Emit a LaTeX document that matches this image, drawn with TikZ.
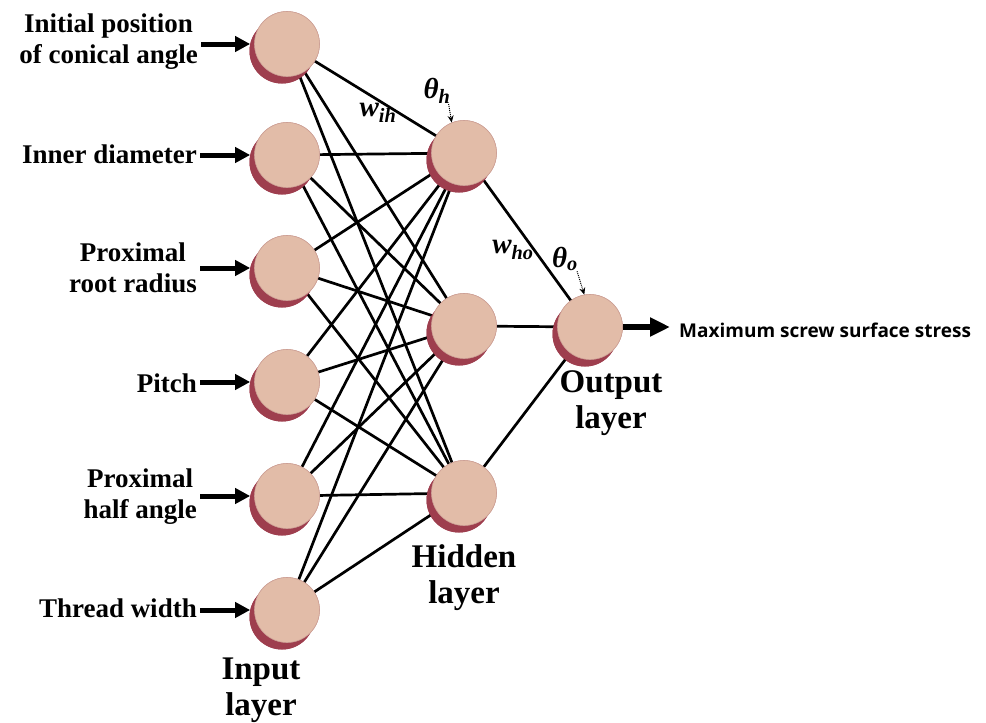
\documentclass[tikz,border=0pt]{standalone}
\usepackage{fontspec}
\setmainfont{Liberation Serif}
\newfontfamily\osans{Open Sans}
\usetikzlibrary{shadows,arrows.meta}
\definecolor{nodefill}{RGB}{226,188,168}
\definecolor{nodeline}{RGB}{205,160,150}
\definecolor{shadowred}{RGB}{158,62,78}
\tikzset{
  neuron/.style={circle, minimum size=65pt, inner sep=0pt, fill=nodefill, draw=nodeline, line width=0.6pt,
    general shadow={fill=shadowred, shadow xshift=-5pt, shadow yshift=-7pt}},
  inlabel/.style={font=\bfseries\fontsize{27}{31}\selectfont, align=center, anchor=east, inner sep=0pt},
  laylabel/.style={font=\bfseries\fontsize{33}{36}\selectfont, align=center, inner sep=0pt},
  inarrow/.style={line width=5pt, -{Triangle[length=15pt,width=15pt]}},
  outarrow/.style={line width=6pt, -{Triangle[length=20pt,width=18pt]}},
  conn/.style={line width=2.7pt},
  dotarrow/.style={densely dotted, line width=1pt, -{Stealth[length=7pt,width=6pt]}},
  wlabel/.style={font=\bfseries\itshape\fontsize{29}{30}\selectfont, inner sep=0pt},
}
\begin{document}
\begin{tikzpicture}[x=1pt,y=-1pt]
\useasboundingbox (0,0) rectangle (986,723);
% input nodes
\node[neuron] (i1) at (287,44) {};
\node[neuron] (i2) at (287,155) {};
\node[neuron] (i3) at (287,268) {};
\node[neuron] (i4) at (287,382) {};
\node[neuron] (i5) at (287,496) {};
\node[neuron] (i6) at (287,610) {};
% hidden nodes
\node[neuron] (h1) at (464,153) {};
\node[neuron] (h2) at (464,326) {};
\node[neuron] (h3) at (464,493) {};
% output
\node[neuron] (o) at (590,327) {};
% connections
\foreach \i in {1,...,6}{
  \foreach \h in {1,2,3}{
    \draw[conn] (i\i) -- (h\h);
  }
}
\foreach \h in {1,2,3}{ \draw[conn] (h\h) -- (o); }
% redraw nodes on top
\foreach \n in {i1,i2,i3,i4,i5,i6,h1,h2,h3,o}{ \node[neuron] at (\n) {}; }
% input labels
\node[inlabel] (l1) at (198,42) {Initial position\\of conical angle};
\node[inlabel] (l2) at (197,154) {Inner diameter};
\node[inlabel] (l3) at (197,268) {Proximal\\root radius};
\node[inlabel] (l4) at (197,383) {Pitch};
\node[inlabel] (l5) at (197,497) {Proximal\\half angle};
\node[inlabel] (l6) at (197,608) {Thread width};
\draw[inarrow] ([xshift=3pt]l1.east |- i1) -- ([xshift=-4pt]i1.west);
\draw[inarrow] ([xshift=3pt]l2.east |- i2) -- ([xshift=-4pt]i2.west);
\draw[inarrow] ([xshift=3pt]l3.east |- i3) -- ([xshift=-4pt]i3.west);
\draw[inarrow] ([xshift=3pt]l4.east |- i4) -- ([xshift=-4pt]i4.west);
\draw[inarrow] ([xshift=3pt]l5.east |- i5) -- ([xshift=-4pt]i5.west);
\draw[inarrow] ([xshift=3pt]l6.east |- i6) -- ([xshift=-4pt]i6.west);
% output arrow and label
\coordinate (oend) at (670,327);
\draw[outarrow] (o.east) -- (oend);
\node[anchor=west, inner sep=0pt, font=\osans\bfseries\fontsize{19}{22}\selectfont] (olab) at (679,330) {Maximum screw surface stress};
% layer labels
\node[laylabel] (linput) at (261,690) {Input\\layer};
\node[laylabel] (lhidden) at (464,578) {Hidden\\layer};
\node[laylabel] (loutput) at (611,403) {Output\\layer};
% weight labels
\node[wlabel] (wih) at (378,113) {w\textsubscript{ih}};
\node[wlabel] (thh) at (437,91) {θ\textsubscript{h}};
\draw[dotarrow] ([xshift=-2pt]thh.south east) -- (h1.112);
\node[wlabel] (who) at (513,250) {w\textsubscript{ho}};
\node[wlabel] (tho) at (565,259) {θ\textsubscript{o}};
\draw[dotarrow] ([xshift=-1pt]tho.south east) -- (o.100);
\end{tikzpicture}
\end{document}
